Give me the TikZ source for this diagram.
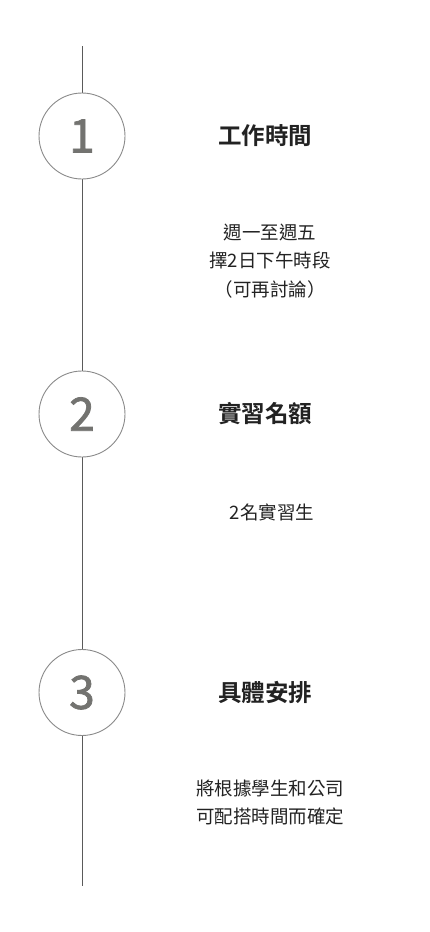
\documentclass[tikz,border=0pt]{standalone}
\usepackage{fontspec}
\setmainfont{Noto Sans CJK TC}[BoldFont={Noto Sans CJK TC Bold}]
\newfontfamily\digitfont{Noto Sans CJK TC}[FakeBold=1.6]
\definecolor{linegray}{HTML}{5A5A5A}
\definecolor{circgray}{HTML}{8A8A8A}
\definecolor{numgray}{HTML}{737370}
\definecolor{textblack}{HTML}{222222}
\begin{document}
\begin{tikzpicture}[x=1pt,y=-1pt,
  stepcircle/.style={circle,draw=circgray,line width=0.9pt,fill=white,minimum size=86pt,inner sep=0pt,
    text=numgray,font=\digitfont\fontsize{46}{46}\selectfont},
  titletext/.style={text=textblack,font=\bfseries\fontsize{23.5}{28}\selectfont,inner sep=0pt},
  bodytext/.style={text=textblack,font=\fontsize{18.5}{28.5}\selectfont,align=center,inner sep=0pt}]
\useasboundingbox (0,0) rectangle (430,932);
\coordinate (top) at (82,46);
\coordinate (bot) at (82,886);
\draw[linegray,line width=1pt] (top) -- (bot);
\node[stepcircle] (c1) at (82,136) {1};
\node[stepcircle] (c2) at (82,414) {2};
\node[stepcircle] (c3) at (82,692.5) {3};
\node[titletext] (t1) at (265,136) {工作時間};
\node[titletext] (t2) at (265,414) {實習名額};
\node[titletext] (t3) at (265,692.5) {具體安排};
\node[bodytext] (b1) at (270,261) {週一至週五\\擇2日下午時段\\（可再討論）};
\node[bodytext] (b2) at (272,512) {2名實習生};
\node[bodytext] (b3) at (270,802.5) {將根據學生和公司\\可配搭時間而確定};
\end{tikzpicture}
\end{document}
